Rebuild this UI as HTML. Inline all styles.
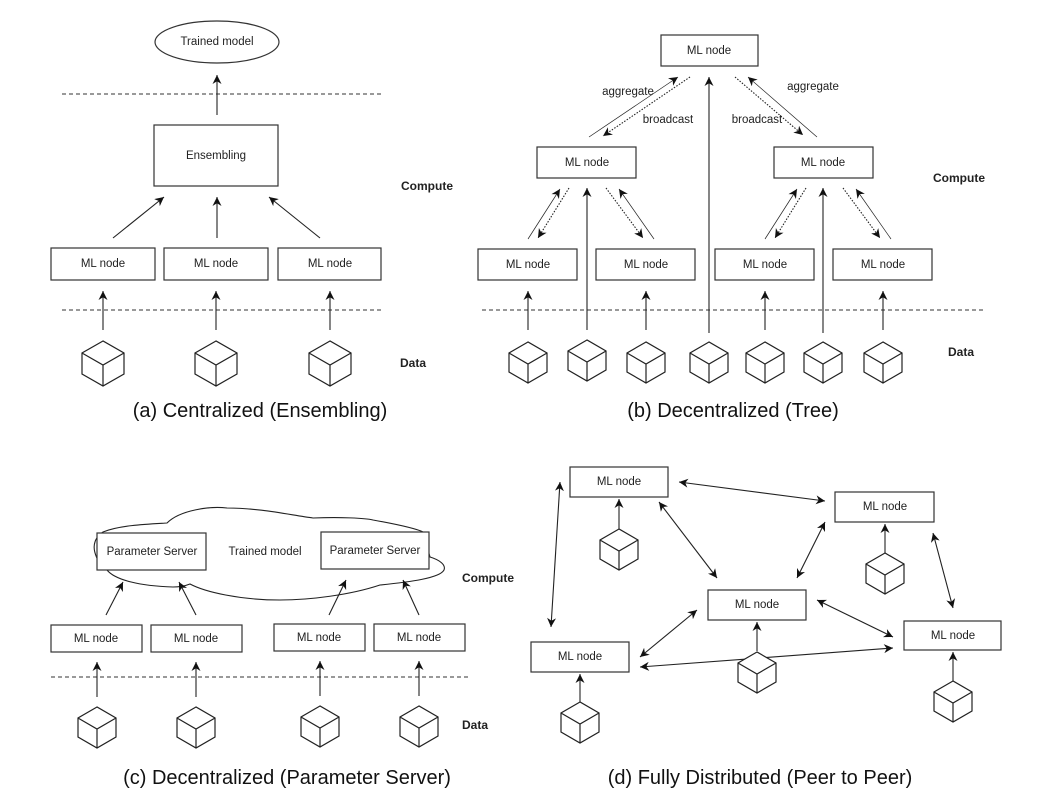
<!DOCTYPE html>
<html><head><meta charset="utf-8"><style>
html,body{margin:0;padding:0;background:#fff}
svg{display:block}
text{font-family:"Liberation Sans",Arial,sans-serif;fill:#222}
.s{font-size:11.5px;text-anchor:middle;dominant-baseline:central}
.lab{font-size:12px;font-weight:bold;dominant-baseline:central}
.cap{font-family:"Liberation Sans",sans-serif;font-size:20px;text-anchor:middle;fill:#111}
rect{fill:#fff;stroke:#333;stroke-width:1.2}
line{stroke:#222;stroke-width:1.1}
.dash{stroke:#333;stroke-dasharray:4,3;stroke-width:1}
.dot{stroke-dasharray:1.5,1.5}
.thin{stroke-width:0.7}
</style></head><body>
<svg width="1044" height="810" viewBox="0 0 1044 810" xmlns="http://www.w3.org/2000/svg">
<defs>
<marker id="a" viewBox="0 0 10 10" refX="10" refY="5" markerWidth="9" markerHeight="9" markerUnits="userSpaceOnUse" orient="auto-start-reverse"><path d="M0,0 L10,5 L0,10 L3,5 z" fill="#111"/></marker>
<g id="cube" fill="none" stroke="#222" stroke-width="1.2"><path d="M0,0 L-21,12 L-21,33 L0,45 L21,33 L21,12 Z M-21,12 L0,24 L21,12 M0,24 L0,45"/></g>
<g id="cs" fill="none" stroke="#222" stroke-width="1.2"><path d="M0,0 L-19,11 L-19,30 L0,41 L19,30 L19,11 Z M-19,11 L0,22 L19,11 M0,22 L0,41"/></g>
</defs>

<!-- (a) -->
<ellipse cx="217" cy="42" rx="62" ry="21" fill="#fff" stroke="#333" stroke-width="1.2"/>
<text class="s" x="217" y="42">Trained model</text>
<line class="dash" x1="62" y1="94" x2="381" y2="94"/>
<line x1="217" y1="115" x2="217" y2="75" marker-end="url(#a)"/>
<rect x="154" y="125" width="124" height="61"/>
<text class="s" x="216" y="156">Ensembling</text>
<line x1="113" y1="238" x2="164" y2="197" marker-end="url(#a)"/>
<line x1="217" y1="238" x2="217" y2="197" marker-end="url(#a)"/>
<line x1="320" y1="238" x2="269" y2="197" marker-end="url(#a)"/>
<rect x="51" y="248" width="104" height="32"/><text class="s" x="103" y="264">ML node</text>
<rect x="164" y="248" width="104" height="32"/><text class="s" x="216" y="264">ML node</text>
<rect x="278" y="248" width="103" height="32"/><text class="s" x="330" y="264">ML node</text>
<line class="dash" x1="62" y1="310" x2="381" y2="310"/>
<line x1="103" y1="330" x2="103" y2="291" marker-end="url(#a)"/>
<line x1="216" y1="330" x2="216" y2="291" marker-end="url(#a)"/>
<line x1="330" y1="330" x2="330" y2="291" marker-end="url(#a)"/>
<use href="#cube" x="103" y="341"/><use href="#cube" x="216" y="341"/><use href="#cube" x="330" y="341"/>
<text class="lab" x="401" y="186">Compute</text>
<text class="lab" x="400" y="363">Data</text>
<text class="cap" x="260" y="417">(a) Centralized (Ensembling)</text>

<!-- (b) -->
<rect x="661" y="35" width="97" height="31"/><text class="s" x="709" y="51">ML node</text>
<rect x="537" y="147" width="99" height="31"/><text class="s" x="587" y="163">ML node</text>
<rect x="774" y="147" width="99" height="31"/><text class="s" x="823" y="163">ML node</text>
<rect x="478" y="249" width="99" height="31"/><text class="s" x="528" y="265">ML node</text>
<rect x="596" y="249" width="99" height="31"/><text class="s" x="646" y="265">ML node</text>
<rect x="715" y="249" width="99" height="31"/><text class="s" x="765" y="265">ML node</text>
<rect x="833" y="249" width="99" height="31"/><text class="s" x="883" y="265">ML node</text>
<line class="dash" x1="482" y1="310" x2="983" y2="310"/>
<line x1="528" y1="330" x2="528" y2="291" marker-end="url(#a)"/>
<line x1="646" y1="330" x2="646" y2="291" marker-end="url(#a)"/>
<line x1="765" y1="330" x2="765" y2="291" marker-end="url(#a)"/>
<line x1="883" y1="330" x2="883" y2="291" marker-end="url(#a)"/>
<line x1="587" y1="330" x2="587" y2="188" marker-end="url(#a)"/>
<line x1="709" y1="333" x2="709" y2="77" marker-end="url(#a)"/>
<line x1="823" y1="333" x2="823" y2="188" marker-end="url(#a)"/>
<line class="thin" x1="589" y1="137" x2="678" y2="77" marker-end="url(#a)"/>
<line class="dot" x1="690" y1="77" x2="603" y2="136" marker-end="url(#a)"/>
<line class="dot" x1="735" y1="77" x2="803" y2="135" marker-end="url(#a)"/>
<line class="thin" x1="817" y1="137" x2="748" y2="77" marker-end="url(#a)"/>
<line class="thin" x1="528" y1="239" x2="560" y2="189" marker-end="url(#a)"/>
<line class="dot" x1="569" y1="188" x2="538" y2="238" marker-end="url(#a)"/>
<line class="dot" x1="606" y1="188" x2="643" y2="238" marker-end="url(#a)"/>
<line class="thin" x1="654" y1="239" x2="619" y2="189" marker-end="url(#a)"/>
<line class="thin" x1="765" y1="239" x2="797" y2="189" marker-end="url(#a)"/>
<line class="dot" x1="806" y1="188" x2="775" y2="238" marker-end="url(#a)"/>
<line class="dot" x1="843" y1="188" x2="880" y2="238" marker-end="url(#a)"/>
<line class="thin" x1="891" y1="239" x2="856" y2="189" marker-end="url(#a)"/>
<text class="s" x="628" y="92">aggregate</text>
<text class="s" x="668" y="120">broadcast</text>
<text class="s" x="757" y="120">broadcast</text>
<text class="s" x="813" y="87">aggregate</text>
<use href="#cs" x="528" y="342"/><use href="#cs" x="587" y="340"/><use href="#cs" x="646" y="342"/>
<use href="#cs" x="709" y="342"/><use href="#cs" x="765" y="342"/><use href="#cs" x="823" y="342"/><use href="#cs" x="883" y="342"/>
<text class="lab" x="933" y="178">Compute</text>
<text class="lab" x="948" y="352">Data</text>
<text class="cap" x="733" y="417">(b) Decentralized (Tree)</text>

<!-- (c) -->
<path d="M103,532 C120,525 150,524 167,523 C180,510 210,506 227,508 C260,508 290,515 313,518 C340,517 365,518 373,520 C395,524 415,528 423,532 L430,557 C440,560 446,565 444,570 C440,578 410,582 380,585 C350,595 310,600 280,600 C240,600 205,592 190,584 C185,586 178,587 173,587 C140,586 115,580 107,570 C98,565 92,550 95,542 C96,538 100,534 103,532 Z" fill="#fff" stroke="#222" stroke-width="1.1"/>
<rect x="97" y="533" width="109" height="37"/><text class="s" x="152" y="552">Parameter Server</text>
<rect x="321" y="532" width="108" height="37"/><text class="s" x="375" y="551">Parameter Server</text>
<text class="s" x="265" y="552">Trained model</text>
<line x1="106" y1="615" x2="123" y2="582" marker-end="url(#a)"/>
<line x1="196" y1="615" x2="179" y2="582" marker-end="url(#a)"/>
<line x1="329" y1="615" x2="346" y2="580" marker-end="url(#a)"/>
<line x1="419" y1="615" x2="403" y2="580" marker-end="url(#a)"/>
<rect x="51" y="625" width="91" height="27"/><text class="s" x="96" y="639">ML node</text>
<rect x="151" y="625" width="91" height="27"/><text class="s" x="196" y="639">ML node</text>
<rect x="274" y="624" width="91" height="27"/><text class="s" x="319" y="638">ML node</text>
<rect x="374" y="624" width="91" height="27"/><text class="s" x="419" y="638">ML node</text>
<line class="dash" x1="51" y1="677" x2="468" y2="677"/>
<line x1="97" y1="697" x2="97" y2="662" marker-end="url(#a)"/>
<line x1="196" y1="697" x2="196" y2="662" marker-end="url(#a)"/>
<line x1="320" y1="696" x2="320" y2="661" marker-end="url(#a)"/>
<line x1="419" y1="696" x2="419" y2="661" marker-end="url(#a)"/>
<use href="#cs" x="97" y="707"/><use href="#cs" x="196" y="707"/><use href="#cs" x="320" y="706"/><use href="#cs" x="419" y="706"/>
<text class="lab" x="462" y="578">Compute</text>
<text class="lab" x="462" y="725">Data</text>
<text class="cap" x="287" y="784">(c) Decentralized (Parameter Server)</text>

<!-- (d) -->
<rect x="570" y="467" width="98" height="30"/><text class="s" x="619" y="482">ML node</text>
<rect x="835" y="492" width="99" height="30"/><text class="s" x="885" y="507">ML node</text>
<rect x="708" y="590" width="98" height="30"/><text class="s" x="757" y="605">ML node</text>
<rect x="531" y="642" width="98" height="30"/><text class="s" x="580" y="657">ML node</text>
<rect x="904" y="621" width="97" height="29"/><text class="s" x="953" y="636">ML node</text>
<line x1="619" y1="529" x2="619" y2="499" marker-end="url(#a)"/>
<line x1="885" y1="553" x2="885" y2="524" marker-end="url(#a)"/>
<line x1="757" y1="651" x2="757" y2="622" marker-end="url(#a)"/>
<line x1="580" y1="702" x2="580" y2="674" marker-end="url(#a)"/>
<line x1="953" y1="681" x2="953" y2="652" marker-end="url(#a)"/>
<line x1="560" y1="482" x2="551" y2="627" marker-start="url(#a)" marker-end="url(#a)"/>
<line x1="679" y1="482" x2="825" y2="501" marker-start="url(#a)" marker-end="url(#a)"/>
<line x1="659" y1="502" x2="717" y2="578" marker-start="url(#a)" marker-end="url(#a)"/>
<line x1="825" y1="522" x2="797" y2="578" marker-start="url(#a)" marker-end="url(#a)"/>
<line x1="933" y1="533" x2="953" y2="608" marker-start="url(#a)" marker-end="url(#a)"/>
<line x1="817" y1="600" x2="893" y2="637" marker-start="url(#a)" marker-end="url(#a)"/>
<line x1="697" y1="610" x2="640" y2="657" marker-start="url(#a)" marker-end="url(#a)"/>
<line x1="893" y1="648" x2="640" y2="667" marker-start="url(#a)" marker-end="url(#a)"/>
<path d="M757,652 L738,663 L738,682 L757,693 L776,682 L776,663 Z" fill="#fff" stroke="none"/>
<use href="#cs" x="619" y="529"/><use href="#cs" x="885" y="553"/><use href="#cs" x="757" y="652"/>
<use href="#cs" x="580" y="702"/><use href="#cs" x="953" y="681"/>
<text class="cap" x="760" y="784">(d) Fully Distributed (Peer to Peer)</text>
</svg>
</body></html>
